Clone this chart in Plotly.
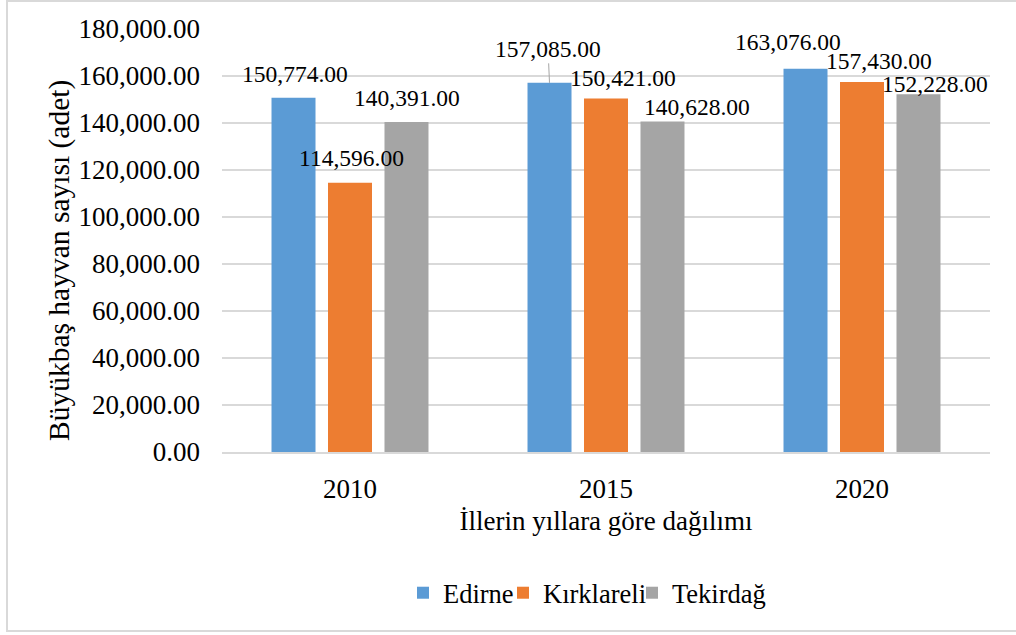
import plotly.graph_objects as go

# Büyükbaş hayvan sayısı by province and year
years = ["2010", "2015", "2020"]
provinces = ["Edirne", "Kırklareli", "Tekirdağ"]
edirne = [150774, 157085, 163076]
kirklareli = [114596, 150421, 157430]
tekirdag = [140391, 140628, 152228]
y_ticks = [0, 20000, 40000, 60000, 80000, 100000, 120000, 140000, 160000, 180000]

series = [edirne, kirklareli, tekirdag]
colors = ["#5b9bd5", "#ed7d31", "#a5a5a5"]

FONT = "Liberation Serif, Times New Roman, DejaVu Serif, serif"
W, H = 1016, 635
L, R, T, B = 222, 26, 29, 183
plot_w = W - L - R
plot_h = H - T - B
cat_w = plot_w / len(years)
bargap = 0.338
slot = cat_w * (1 - bargap) / len(provinces)

# each series gets its own legend box so the entries sit close together
legend_ids = ["legend", "legend2", "legend3"]
legend_left_px = [403, 503, 632]

fig = go.Figure()
for name, vals, col, lg in zip(provinces, series, colors, legend_ids):
    fig.add_trace(go.Bar(
        name=name, x=years, y=vals, legend=lg,
        marker=dict(color=col, line=dict(width=0)),
    ))

# data label placement (pixel offsets relative to the top centre of each bar)
label_offsets = [
    [(1, -24), (-1.5, -34), (-17.5, -27)],   # Edirne
    [(1, -25), (17, -21), (17, -21.5)],      # Kırklareli
    [(1, -24), (34.5, -15), (17, -10.5)],    # Tekirdağ
]

annotations = []
for si, (vals, offs) in enumerate(zip(series, label_offsets)):
    bar_dx = (si - 1) * slot
    for yi, (v, (dx, dy)) in enumerate(zip(vals, offs)):
        txt = f"{v:,.2f}"
        if si == 0 and yi == 1:
            # label with leader line
            annotations.append(dict(
                x=yi, y=v, xref="x", yref="y", text=txt,
                showarrow=True, arrowhead=0, arrowwidth=1, arrowcolor="#a6a6a6",
                ax=dx, ay=dy, xshift=bar_dx, standoff=0,
                font=dict(family=FONT, size=23.5, color="#000000"),
            ))
        else:
            annotations.append(dict(
                x=yi, y=v, xref="x", yref="y", text=txt, showarrow=False,
                xanchor="center", yanchor="middle",
                xshift=bar_dx + dx, yshift=-dy,
                font=dict(family=FONT, size=23.5, color="#000000"),
            ))

# vertical axis title
annotations.append(dict(
    text="Büyükbaş hayvan sayısı (adet)", textangle=-90,
    xref="paper", yref="paper", x=0, y=(H - B - 261) / plot_h,
    xanchor="center", yanchor="middle", xshift=59 - L, showarrow=False,
    font=dict(family=FONT, size=29.5, color="#000000"),
))

legend_style = dict(
    orientation="h", xanchor="left", y=(H - B - 593) / plot_h,
    yanchor="middle", font=dict(family=FONT, size=26.5, color="#000000"),
    itemwidth=30, bgcolor="rgba(0,0,0,0)",
)
legends = {
    lg: dict(legend_style, x=(px - L) / plot_w)
    for lg, px in zip(legend_ids, legend_left_px)
}

fig.update_layout(
    width=W, height=H,
    margin=dict(l=L, r=R, t=T, b=B),
    paper_bgcolor="white", plot_bgcolor="white",
    barmode="group", bargap=bargap, bargroupgap=0.221,
    font=dict(family=FONT, size=26, color="#000000"),
    showlegend=True,
    xaxis=dict(
        type="category", range=[-0.5, 2.5], autorange=False,
        showgrid=False, showline=True,
        linecolor="#d9d9d9", linewidth=1.5, ticks="",
        tickfont=dict(family=FONT, size=27), ticklabelstandoff=12,
        title=dict(text="İllerin yıllara göre dağılımı",
                   font=dict(family=FONT, size=27), standoff=8),
    ),
    yaxis=dict(
        range=[0, 180000], autorange=False, tickvals=y_ticks,
        ticktext=[f"{v:,.2f}" for v in y_ticks],
        showgrid=True, gridcolor="#d9d9d9", gridwidth=1.5,
        zeroline=False, showline=False, ticks="",
        tickfont=dict(family=FONT, size=27), ticklabelstandoff=21,
    ),
    annotations=annotations,
    shapes=[dict(
        type="rect", xref="paper", yref="paper",
        x0=(7 - L) / plot_w, x1=(W + 20 - L) / plot_w,
        y0=(H - B - 631) / plot_h, y1=(H - B - 1) / plot_h,
        line=dict(color="#d9d9d9", width=2), fillcolor="rgba(0,0,0,0)",
        layer="below",
    )],
    **legends,
)

fig.write_html("out.html")
